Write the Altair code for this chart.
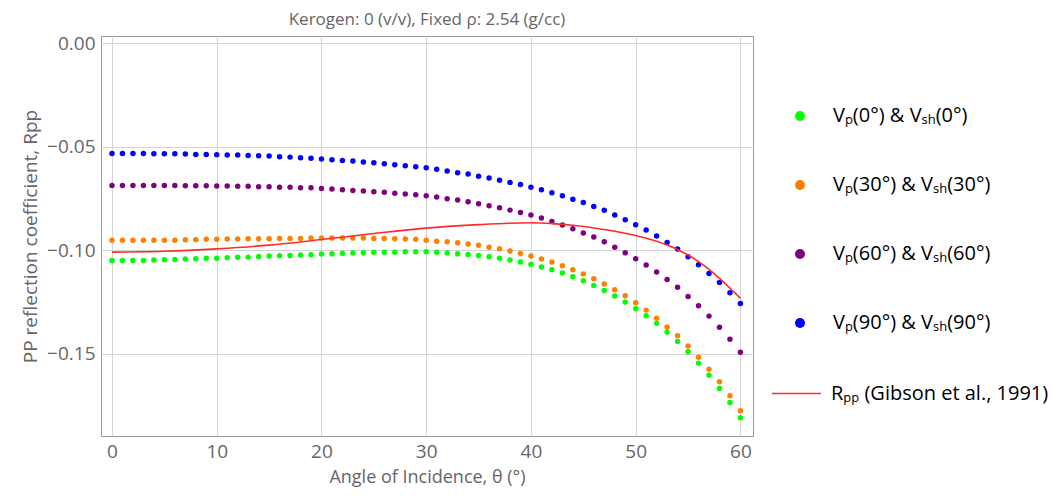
import altair as alt
import pandas as pd

theta = list(range(61))

series_labels = ["Vₚ(0°) & Vₛₕ(0°)", "Vₚ(30°) & Vₛₕ(30°)", "Vₚ(60°) & Vₛₕ(60°)", "Vₚ(90°) & Vₛₕ(90°)"]
series_colors = ["#00ff00", "#ff8000", "#800080", "#0000ff"]

green = [-0.1050, -0.1050, -0.1050, -0.1050, -0.1048, -0.1047, -0.1045, -0.1043, -0.1042, -0.1040,
         -0.1039, -0.1037, -0.1035, -0.1034, -0.1031, -0.1029, -0.1027, -0.1026, -0.1024, -0.1023,
         -0.1019, -0.1018, -0.1016, -0.1014, -0.1013, -0.1011, -0.1010, -0.1010, -0.1008, -0.1008,
         -0.1008, -0.1011, -0.1014, -0.1018, -0.1021, -0.1026, -0.1032, -0.1039, -0.1048, -0.1058,
         -0.1069, -0.1082, -0.1095, -0.1111, -0.1129, -0.1148, -0.1171, -0.1195, -0.1222, -0.1251,
         -0.1282, -0.1317, -0.1354, -0.1396, -0.1441, -0.1491, -0.1546, -0.1604, -0.1668, -0.1736,
         -0.1810]

orange = [-0.0953, -0.0953, -0.0953, -0.0953, -0.0953, -0.0952, -0.0952, -0.0950, -0.0950, -0.0948,
          -0.0948, -0.0947, -0.0947, -0.0945, -0.0945, -0.0945, -0.0944, -0.0944, -0.0944, -0.0942,
          -0.0942, -0.0942, -0.0942, -0.0942, -0.0942, -0.0944, -0.0944, -0.0945, -0.0947, -0.0948,
          -0.0953, -0.0957, -0.0960, -0.0965, -0.0971, -0.0977, -0.0986, -0.0994, -0.1005, -0.1016,
          -0.1029, -0.1043, -0.1058, -0.1076, -0.1095, -0.1116, -0.1138, -0.1164, -0.1192, -0.1221,
          -0.1254, -0.1290, -0.1329, -0.1371, -0.1414, -0.1463, -0.1518, -0.1576, -0.1636, -0.1704,
          -0.1776]

purple = [-0.0688, -0.0688, -0.0688, -0.0688, -0.0688, -0.0688, -0.0688, -0.0689, -0.0689, -0.0689,
          -0.0691, -0.0691, -0.0692, -0.0692, -0.0694, -0.0694, -0.0696, -0.0696, -0.0699, -0.0699,
          -0.0702, -0.0705, -0.0709, -0.0712, -0.0715, -0.0718, -0.0721, -0.0725, -0.0729, -0.0733,
          -0.0738, -0.0744, -0.0752, -0.0758, -0.0767, -0.0776, -0.0786, -0.0796, -0.0807, -0.0818,
          -0.0831, -0.0845, -0.0862, -0.0879, -0.0897, -0.0918, -0.0937, -0.0960, -0.0986, -0.1013,
          -0.1042, -0.1072, -0.1106, -0.1142, -0.1180, -0.1224, -0.1269, -0.1319, -0.1373, -0.1431,
          -0.1493]

blue = [-0.0533, -0.0533, -0.0533, -0.0533, -0.0535, -0.0535, -0.0535, -0.0536, -0.0538, -0.0538,
        -0.0539, -0.0541, -0.0541, -0.0543, -0.0544, -0.0546, -0.0549, -0.0551, -0.0554, -0.0557,
        -0.0560, -0.0564, -0.0567, -0.0570, -0.0575, -0.0578, -0.0583, -0.0588, -0.0593, -0.0597,
        -0.0602, -0.0610, -0.0618, -0.0626, -0.0633, -0.0643, -0.0652, -0.0663, -0.0673, -0.0683,
        -0.0696, -0.0709, -0.0723, -0.0738, -0.0754, -0.0770, -0.0789, -0.0808, -0.0831, -0.0853,
        -0.0878, -0.0903, -0.0932, -0.0963, -0.0995, -0.1032, -0.1071, -0.1113, -0.1156, -0.1206,
        -0.1258]

red_label = "Rₚₚ (Gibson et al., 1991)"
red_theta = [0, 5, 10, 15, 20, 25, 30, 35, 40, 42, 44, 46, 48, 50, 51, 52, 53, 54, 55, 56, 57, 58, 59, 60]
red_vals = [-0.1010, -0.1006, -0.0994, -0.0976, -0.0949, -0.0920, -0.0894, -0.0877, -0.0868, -0.0872,
            -0.0880, -0.0893, -0.0909, -0.0930, -0.0943, -0.0957, -0.0976, -0.0998, -0.1024, -0.1056,
            -0.1093, -0.1137, -0.1184, -0.1233]
red_color = "#ff2a2a"

x_ticks = [0, 10, 20, 30, 40, 50, 60]
y_ticks = [0.0, -0.05, -0.10, -0.15]

rows = []
for lab, vals in zip(series_labels, [green, orange, purple, blue]):
    for t, v in zip(theta, vals):
        rows.append({"theta": t, "rpp": v, "series": lab})
pts = pd.DataFrame(rows)
line_df = pd.DataFrame({"theta": red_theta, "rpp": red_vals, "model": [red_label] * len(red_theta)})

FONT = "Open Sans"

x = alt.X("theta:Q",
          scale=alt.Scale(domain=[-1.05, 61.2], nice=False, zero=False),
          axis=alt.Axis(values=x_ticks, title="Angle of Incidence, θ (°)", format="d",
                        labelPadding=6, titlePadding=7, titleFontSize=18))
y = alt.Y("rpp:Q",
          scale=alt.Scale(domain=[-0.1898, 0.0034], nice=False, zero=False),
          axis=alt.Axis(values=y_ticks, format=".2f", labelExpr="replace(datum.label, '-', '−')",
                        title="PP reflection coefficient, Rpp",
                        labelPadding=6, titlePadding=6, titleFontSize=19))

points = alt.Chart(pts).mark_circle(size=30, opacity=1).encode(
    x=x, y=y,
    fill=alt.Fill("series:N",
                  scale=alt.Scale(domain=series_labels, range=series_colors),
                  legend=alt.Legend(title=None, orient="none", legendX=689, legendY=70,
                                    symbolType="circle", symbolSize=100, symbolStrokeWidth=0,
                                    labelFontSize=20, labelColor="black", labelFont=FONT,
                                    labelOffset=23, rowPadding=49, labelLimit=400, padding=0))
)

line = alt.Chart(line_df).mark_line(strokeWidth=1.6, interpolate="monotone").encode(
    x=x, y=y,
    stroke=alt.Stroke("model:N",
                      scale=alt.Scale(domain=[red_label], range=[red_color]),
                      legend=alt.Legend(title=None, orient="none", legendX=670, legendY=332,
                                        symbolType="stroke", symbolSize=2400, symbolStrokeWidth=1.6,
                                        labelFontSize=20, labelColor="black", labelFont=FONT,
                                        labelOffset=9, labelLimit=400, padding=0))
)

chart = alt.layer(points, line).properties(
    width=652, height=400,
    title=alt.TitleParams("Kerogen: 0 (v/v), Fixed ρ: 2.54 (g/cc)", fontSize=17, color="#666666",
                          fontWeight="normal", font=FONT, offset=5),
    autosize=alt.AutoSizeParams(type="none"),
    padding={"left": 93, "top": 28, "right": 296, "bottom": 55},
).configure_view(
    stroke="#999999", strokeWidth=1
).configure_axis(
    grid=True, gridColor="#d4d4d4", gridWidth=1, domain=False, ticks=False,
    labelFont=FONT, labelFontSize=19, labelColor="#666666",
    titleFont=FONT, titleColor="#666666", titleFontWeight="normal"
)

chart.save("out.html", embed_options={"renderer": "svg", "actions": False})
